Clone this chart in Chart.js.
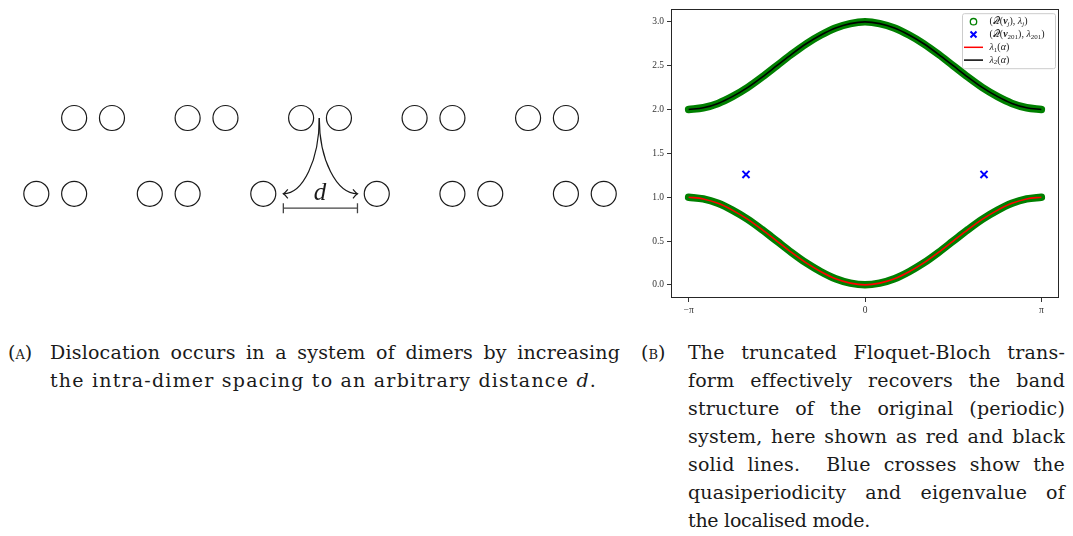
<!DOCTYPE html>
<html>
<head>
<meta charset="utf-8">
<script src="https://cdn.jsdelivr.net/npm/chart.js@4.4.0/dist/chart.umd.min.js"></script>
<style>
  body { margin: 0; width: 1073px; height: 536px; background: #fff; position: relative; overflow: hidden;
         font-family: 'DejaVu Serif', serif; color: #1a1a1a; }
  #cajaDimeros { position: absolute; left: 0; top: 90px; width: 620px; height: 140px; }
  #cajaBandas { position: absolute; left: 640px; top: 0; width: 433px; height: 320px; }
  .pie { position: absolute; font-size: 19px; line-height: 28px; letter-spacing: 0.2px; }
  .pie div { white-space: nowrap; }
  .etiqueta { position: absolute; font-size: 19px; line-height: 28px; font-variant: small-caps; }
</style>
</head>
<body>

<div id="cajaDimeros"><canvas id="dimeros"></canvas></div>
<div id="cajaBandas"><canvas id="bandas"></canvas></div>

<div class="etiqueta" style="left:8px; top:338px;">(a)</div>
<div class="pie" style="left:50px; top:338px; width:570px;">
  <div class="justa"><span>Dislocation occurs in a system of dimers by increasing</span></div>
  <div class="ultima" data-ancho="547"><span>the intra-dimer spacing to an arbitrary distance <i>d</i>.</span></div>
</div>

<div class="etiqueta" style="left:641px; top:338px;">(b)</div>
<div class="pie" style="left:688px; top:338px; width:377px;">
  <div class="justa"><span>The truncated Floquet-Bloch trans-</span></div>
  <div class="justa"><span>form effectively recovers the band</span></div>
  <div class="justa"><span>structure of the original (periodic)</span></div>
  <div class="justa"><span>system, here shown as red and black</span></div>
  <div class="justa"><span>solid lines.&nbsp; Blue crosses show the</span></div>
  <div class="justa"><span>quasiperiodicity and eigenvalue of</span></div>
  <div class="ultima" data-ancho="182"><span>the localised mode.</span></div>
</div>

<script>
// Datos del diagrama (unidades = separacion dentro de un dimero)

const filaArriba = [2, 3, 5, 6, 8, 9, 11, 12, 14, 15];
const filaAbajo = [1, 2, 4, 5, 7, 10, 12, 13, 15, 16];
const alturaArriba = 2;
const alturaAbajo = 0;
const flechaInicio = [8.48, 2];
const flechaFin = [[7.53, 0], [9.49, 0]];
const etiquetaD = [8.5, -0.17];
const corchete = [7.53, 9.49, -0.38];

// Datos del grafico de bandas

const alfa = [-3.142, -2.880, -2.618, -2.356, -2.094, -1.833, -1.571, -1.309, -1.047, -0.785, -0.524, -0.262, 0,
              0.262, 0.524, 0.785, 1.047, 1.309, 1.571, 1.833, 2.094, 2.356, 2.618, 2.880, 3.142];
const lambda1 = [1.00, 0.98, 0.93, 0.85, 0.75, 0.63, 0.50, 0.37, 0.25, 0.15, 0.07, 0.02, 0.00,
                 0.02, 0.07, 0.15, 0.25, 0.37, 0.50, 0.63, 0.75, 0.85, 0.93, 0.98, 1.00];
const lambda2 = [2.00, 2.02, 2.07, 2.15, 2.25, 2.37, 2.50, 2.63, 2.75, 2.85, 2.93, 2.98, 3.00,
                 2.98, 2.93, 2.85, 2.75, 2.63, 2.50, 2.37, 2.25, 2.15, 2.07, 2.02, 2.00];
const alfaModo = [-2.12, 2.12];
const lambdaModo = [1.26, 1.26];
const ticksY = [0, 0.5, 1, 1.5, 2, 2.5, 3];
const ticksX = [-Math.PI, 0, Math.PI];
const etiquetasX = ['\u2212\u03c0', '0', '\u03c0'];
// n = normal, i = italica, b = negrita italica, s = subindice italico, d = subindice recto
const textosLeyenda = [
  [['(\u{1D4AC}(', 'n'], ['v', 'b'], ['j', 's'], ['), ', 'n'], ['\u03bb', 'i'], ['j', 's'], [')', 'n']],
  [['(\u{1D4AC}(', 'n'], ['v', 'b'], ['201', 'd'], ['), ', 'n'], ['\u03bb', 'i'], ['201', 'd'], [')', 'n']],
  [['\u03bb', 'i'], ['1', 'd'], ['(', 'n'], ['\u03b1', 'i'], [')', 'n']],
  [['\u03bb', 'i'], ['2', 'd'], ['(', 'n'], ['\u03b1', 'i'], [')', 'n']]
];

//Funciones auxiliares

const pares = (xs, ys) => xs.map((x, i) => ({ x: x, y: ys[i] }));
const fila = (xs, y) => xs.map(x => ({ x: x, y: y }));

const fuenteEjes = { family: "'Liberation Serif', serif", size: 9.5 };
const estilos = {
  n: "10px 'Liberation Serif', serif",
  i: "italic 10px 'Liberation Serif', serif",
  b: "bold italic 10px 'Liberation Serif', serif",
  s: "italic 7px 'Liberation Serif', serif",
  d: "7px 'Liberation Serif', serif"
};

function textoRico(ctx, segmentos, x, y) {
  for (const [t, e] of segmentos) {
    ctx.font = estilos[e];
    const baja = (e === 's' || e === 'd') ? 2.5 : 0;
    ctx.fillText(t, x, y + baja);
    x += ctx.measureText(t).width;
  }
}

// justifica las lineas del pie; las ultimas se estiran hasta el ancho medido en la figura
function justificar() {
  document.querySelectorAll('.pie').forEach(pie => {
    const ancho = pie.clientWidth;
    pie.querySelectorAll('.justa').forEach(linea => {
      const span = linea.querySelector('span');
      const natural = span.getBoundingClientRect().width;
      const huecos = (span.textContent.match(/[ \u00a0]/g) || []).length;
      if (huecos) linea.style.wordSpacing = ((ancho - natural) / huecos) + 'px';
    });
    pie.querySelectorAll('.ultima').forEach(linea => {
      const span = linea.querySelector('span');
      const natural = span.getBoundingClientRect().width;
      const letras = span.textContent.length;
      const extra = (Number(linea.dataset.ancho) - natural) / letras;
      linea.style.letterSpacing = (0.2 + extra) + 'px';
    });
  });
}

const anotaciones = {
  id: 'anotaciones',
  afterDatasetsDraw(chart) {
    const { ctx, scales: { x, y } } = chart;
    const sx = x.getPixelForValue(flechaInicio[0]);
    const sy = y.getPixelForValue(flechaInicio[1]);
    ctx.save();
    ctx.strokeStyle = '#1a1a1a';
    ctx.lineWidth = 1.2;
    for (const [fx, fy] of flechaFin) {
      const ex = x.getPixelForValue(fx);
      const ey = y.getPixelForValue(fy);
      const dx = ex - sx, dy = ey - sy;
      ctx.beginPath();
      ctx.moveTo(sx, sy);
      ctx.bezierCurveTo(sx, sy + 0.55 * dy, sx + 0.45 * dx, ey, ex, ey);
      ctx.stroke();
      const s = Math.sign(dx);
      ctx.beginPath();
      ctx.moveTo(ex - s * 4.5, ey - 4.5);
      ctx.quadraticCurveTo(ex - s * 1.5, ey - 0.8, ex, ey);
      ctx.quadraticCurveTo(ex - s * 1.5, ey + 0.8, ex - s * 4.5, ey + 4.5);
      ctx.stroke();
    }
    // corchete de la distancia d
    const c1 = x.getPixelForValue(corchete[0]);
    const c2 = x.getPixelForValue(corchete[1]);
    const cy = y.getPixelForValue(corchete[2]);
    ctx.strokeStyle = '#444';
    ctx.lineWidth = 1.3;
    ctx.beginPath();
    ctx.moveTo(c1, cy); ctx.lineTo(c2, cy);
    ctx.moveTo(c1, cy - 5); ctx.lineTo(c1, cy + 5);
    ctx.moveTo(c2, cy - 5); ctx.lineTo(c2, cy + 5);
    ctx.stroke();
    ctx.fillStyle = '#1a1a1a';
    ctx.font = "italic 25px 'Liberation Serif', serif";
    ctx.textAlign = 'center';
    ctx.textBaseline = 'alphabetic';
    ctx.fillText('d', x.getPixelForValue(etiquetaD[0]), y.getPixelForValue(etiquetaD[1]));
    ctx.restore();
  }
};

const marco = {
  id: 'marco',
  afterDatasetsDraw(chart) {
    const { ctx, chartArea: a } = chart;
    ctx.save();
    ctx.strokeStyle = '#262626';
    ctx.lineWidth = 1;
    ctx.strokeRect(Math.round(a.left) + 0.5, Math.round(a.top) + 0.5, Math.round(a.width) - 1, Math.round(a.height) - 1);
    ctx.restore();
  }
};

const leyenda = {
  id: 'leyenda',
  afterDraw(chart) {
    const { ctx, chartArea: a } = chart;
    const izq = a.right - 97, arriba = a.top + 4.5;
    ctx.save();
    ctx.fillStyle = 'rgba(255,255,255,0.8)';
    ctx.strokeStyle = '#cccccc';
    ctx.lineWidth = 1;
    ctx.beginPath();
    ctx.roundRect(izq + 0.5, arriba + 0.5, 93, 55, 2);
    ctx.fill();
    ctx.stroke();
    ctx.textBaseline = 'middle';
    textosLeyenda.forEach((segmentos, i) => {
      const yy = arriba + 8.5 + i * 12.8;
      const mx = izq + 11.5;
      if (i === 0) {
        ctx.strokeStyle = '#008000'; ctx.lineWidth = 1.3;
        ctx.beginPath(); ctx.arc(mx, yy, 3.2, 0, Math.PI * 2); ctx.stroke();
      } else if (i === 1) {
        ctx.strokeStyle = '#0000ff'; ctx.lineWidth = 2;
        ctx.beginPath();
        ctx.moveTo(mx - 3, yy - 3); ctx.lineTo(mx + 3, yy + 3);
        ctx.moveTo(mx - 3, yy + 3); ctx.lineTo(mx + 3, yy - 3);
        ctx.stroke();
      } else {
        ctx.strokeStyle = i === 2 ? '#ff0000' : '#000000'; ctx.lineWidth = 1.5;
        ctx.beginPath(); ctx.moveTo(mx - 9.5, yy); ctx.lineTo(mx + 9.5, yy); ctx.stroke();
      }
      ctx.fillStyle = '#1a1a1a';
      textoRico(ctx, segmentos, izq + 27.5, yy);
    });
    ctx.restore();
  }
};

//Grafico izquierdo: cadena de dimeros

new Chart(document.getElementById('dimeros'), {
  type: 'scatter',
  data: {
    datasets: [
      { data: fila(filaArriba, alturaArriba) },
      { data: fila(filaAbajo, alturaAbajo) }
    ].map(d => Object.assign(d, {
      pointRadius: 12.5, pointHoverRadius: 12.5, pointBackgroundColor: '#fff',
      pointBorderColor: '#1a1a1a', pointBorderWidth: 1.2, clip: false
    }))
  },
  options: {
    responsive: true, maintainAspectRatio: false, animation: false,
    layout: { padding: 0, autoPadding: false },
    plugins: { legend: { display: false }, tooltip: { enabled: false } },
    scales: {
      x: { type: 'linear', min: 0.04, max: 16.43, display: false },
      y: { type: 'linear', min: -0.955, max: 2.739, display: false }
    }
  },
  plugins: [anotaciones]
});

//Grafico derecho: bandas

const ejeComun = {
  grid: { drawOnChartArea: false, drawTicks: true, tickLength: 4, tickColor: '#333', tickWidth: 1 },
  border: { display: false },
  ticks: { font: fuenteEjes, color: '#333', padding: 3, autoSkip: false, maxRotation: 0 }
};

new Chart(document.getElementById('bandas'), {
  type: 'line',
  data: {
    datasets: [
      { data: pares(alfa, lambda1), borderColor: '#008000', borderWidth: 7.5, borderCapStyle: 'round', order: 3 },
      { data: pares(alfa, lambda2), borderColor: '#008000', borderWidth: 7.5, borderCapStyle: 'round', order: 3 },
      { data: pares(alfa, lambda1), borderColor: '#ff0000', borderWidth: 1.6, order: 2 },
      { data: pares(alfa, lambda2), borderColor: '#000000', borderWidth: 1.6, order: 2 },
      { data: pares(alfaModo, lambdaModo), showLine: false, pointStyle: 'crossRot', pointRadius: 5,
        pointBorderColor: '#0000ff', pointBorderWidth: 2, order: 0 }
    ].map(d => Object.assign({ pointRadius: 0, cubicInterpolationMode: 'monotone', fill: false }, d))
  },
  options: {
    responsive: true, maintainAspectRatio: false, animation: false,
    layout: { padding: { top: 8, right: 14, left: 0, bottom: 0 }, autoPadding: false },
    plugins: { legend: { display: false }, tooltip: { enabled: false } },
    scales: {
      x: Object.assign({}, ejeComun, {
        type: 'linear', min: -3.456, max: 3.456,
        afterFit: s => { s.height = 22; },
        afterBuildTicks: s => { s.ticks = ticksX.map(v => ({ value: v })); },
        ticks: Object.assign({}, ejeComun.ticks, { callback: (v, i) => etiquetasX[i] })
      }),
      y: Object.assign({}, ejeComun, {
        type: 'linear', min: -0.15, max: 3.15,
        afterFit: s => { s.width = 31; },
        afterBuildTicks: s => { s.ticks = ticksY.map(v => ({ value: v })); },
        ticks: Object.assign({}, ejeComun.ticks, { callback: v => v.toFixed(1) })
      })
    }
  },
  plugins: [marco, leyenda]
});

justificar();
</script>
</body>
</html>
